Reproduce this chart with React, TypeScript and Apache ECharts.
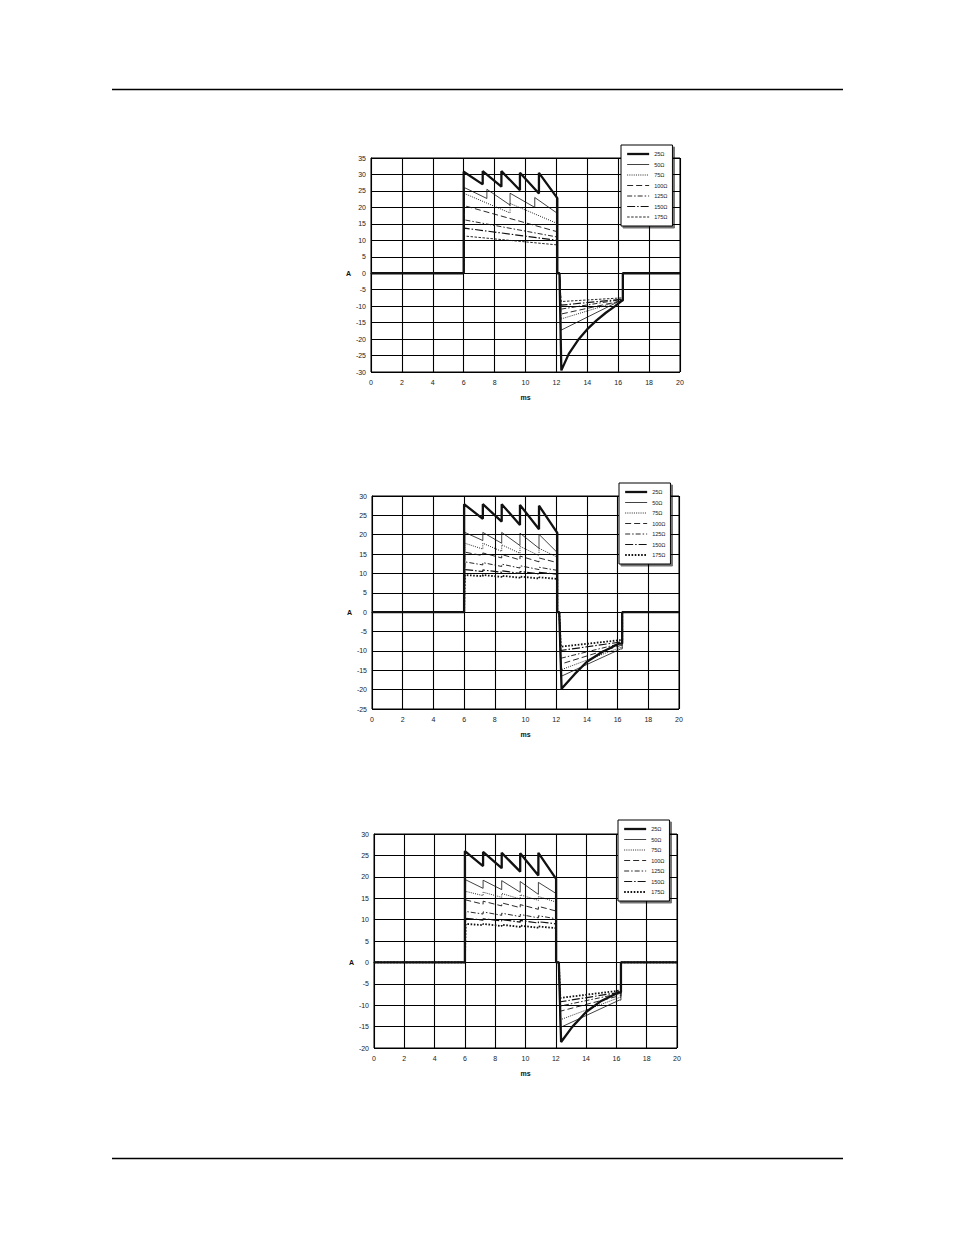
import { useEffect, useRef } from 'react';
import * as echarts from 'echarts';

// resistances shown in each legend
const LOADS = ['25Ω', '50Ω', '75Ω', '100Ω', '125Ω', '150Ω', '175Ω'];
const X_TICKS = [0, 20, 2];

// y axis range per panel [min, max]
const Y_RANGE_1 = [-30, 35];
const Y_RANGE_2 = [-25, 30];
const Y_RANGE_3 = [-20, 30];

// panel 1: positive phase [ms, A] per load
const c1Pos = [
  [[6, 30.8], [7.23, 27], [7.23, 31], [8.44, 26.3], [8.44, 31], [9.64, 25.2], [9.64, 30.5], [10.87, 24.2], [10.87, 30.5], [12.06, 22.8]],
  [[6.05, 26], [7.5, 22.7], [7.5, 25.5], [9.0, 20.7], [9.0, 24.3], [10.6, 20], [10.6, 23], [12.06, 18.2]],
  [[6.05, 24.2], [9.0, 18.3], [9.0, 21.2], [12.06, 15.1]],
  [[6.05, 20.5], [12.06, 12.6]],
  [[6.05, 16.2], [12.06, 11]],
  [[6.05, 13.7], [12.06, 10]],
  [[6.05, 11.3], [12.06, 8.6]],
];
// panel 1: negative phase
const c1Neg = [
  [[12.32, -29.5], [12.8, -24.5], [13.4, -20.3], [14, -17], [14.6, -14.3], [15.2, -12], [15.8, -10], [16.25, -8.3]],
  [[12.3, -17.3], [16.2, -8.2]],
  [[12.3, -13.9], [16.2, -8.3]],
  [[12.3, -12.4], [16.2, -8.4]],
  [[12.3, -10.9], [16.2, -8]],
  [[12.3, -9.7], [16.2, -7.9]],
  [[12.3, -8.6], [16.2, -7.5]],
];

// panel 2
const c2Pos = [
  [[6, 27.9], [7.22, 24.1], [7.22, 27.9], [8.45, 23.4], [8.45, 27.9], [9.64, 22.5], [9.64, 27.7], [10.88, 21.4], [10.88, 27.5], [12.07, 20.5]],
  [[6.05, 20.6], [7.22, 18.5], [7.22, 20.6], [8.45, 17.8], [8.45, 20.6], [9.64, 17.2], [9.64, 20.4], [10.88, 16.5], [10.88, 20.1], [12.07, 15.4]],
  [[6.05, 17.8], [7.22, 16.3], [7.22, 17.8], [8.45, 15.7], [8.45, 17.4], [9.64, 15.2], [9.64, 17], [10.88, 14.6], [10.88, 16.5], [12.07, 14.2]],
  [[6.05, 15.5], [7.22, 14.6], [7.22, 15.3], [8.45, 14], [8.45, 14.9], [9.64, 13.5], [9.64, 14.5], [10.88, 13], [10.88, 14], [12.07, 12.8]],
  [[6.05, 13], [7.22, 12.2], [7.22, 12.8], [8.45, 11.8], [8.45, 12.4], [9.64, 11.4], [9.64, 12], [10.88, 11], [10.88, 11.6], [12.07, 10.8]],
  [[6.05, 11], [7.22, 10.5], [7.22, 10.9], [8.45, 10.3], [8.45, 10.7], [9.64, 10], [9.64, 10.5], [10.88, 9.9], [10.88, 10.3], [12.07, 9.8]],
  [[6.05, 9.6], [7.22, 9.3], [7.22, 9.6], [8.45, 9.1], [8.45, 9.4], [9.64, 8.9], [9.64, 9.2], [10.88, 8.7], [10.88, 9], [12.07, 8.6]],
];
const c2Neg = [
  [[12.35, -19.8], [13.2, -16], [14, -12.8], [15, -10.3], [16.1, -8.1]],
  [[12.3, -16.6], [16.2, -9.5]],
  [[12.3, -14.9], [16.2, -9.1]],
  [[12.3, -13.4], [16.2, -8.6]],
  [[12.3, -11.9], [16.2, -8.1]],
  [[12.3, -9.9], [16.2, -7.7]],
  [[12.3, -8.9], [16.2, -7.2]],
];

// panel 3
const c3Pos = [
  [[6, 26], [7.2, 22.5], [7.2, 25.8], [8.43, 22], [8.43, 25.6], [9.65, 21.2], [9.65, 25.5], [10.85, 20.3], [10.85, 25.6], [12.02, 19.5]],
  [[6.05, 19.3], [7.2, 17.3], [7.2, 19.2], [8.43, 17], [8.43, 19.1], [9.65, 16.4], [9.65, 18.9], [10.85, 15.9], [10.85, 18.7], [12.02, 16.1]],
  [[6.05, 16.6], [7.2, 15.6], [7.2, 16.4], [8.43, 15.2], [8.43, 16.1], [9.65, 14.8], [9.65, 15.8], [10.85, 14.5], [10.85, 15.4], [12.02, 14.1]],
  [[6.05, 14.6], [7.2, 13.6], [7.2, 14.3], [8.43, 13.2], [8.43, 13.9], [9.65, 12.8], [9.65, 13.5], [10.85, 12.4], [10.85, 13.1], [12.02, 12]],
  [[6.05, 11.9], [7.2, 11.3], [7.2, 11.8], [8.43, 11], [8.43, 11.5], [9.65, 10.7], [9.65, 11.2], [10.85, 10.4], [10.85, 10.9], [12.02, 10.2]],
  [[6.05, 10.3], [7.2, 9.9], [7.2, 10.2], [8.43, 9.7], [8.43, 10], [9.65, 9.4], [9.65, 9.8], [10.85, 9.2], [10.85, 9.5], [12.02, 9]],
  [[6.05, 9], [7.2, 8.7], [7.2, 9], [8.43, 8.5], [8.43, 8.8], [9.65, 8.3], [9.65, 8.6], [10.85, 8.1], [10.85, 8.4], [12.02, 8]],
];
const c3Neg = [
  [[12.35, -18.6], [13.1, -15], [14, -11.6], [15, -9], [16.15, -7]],
  [[12.3, -15.2], [16.2, -8.8]],
  [[12.3, -13.4], [16.2, -8.2]],
  [[12.3, -11.4], [16.2, -7.8]],
  [[12.3, -10.2], [16.2, -7.3]],
  [[12.3, -9.2], [16.2, -7]],
  [[12.3, -8.3], [16.2, -6.6]],
];

// full trace: rest, positive pulse, pause, negative pulse, rest
function wave(pos: number[][], neg: number[][]) {
  const tEnd = pos[pos.length - 1][0];
  const nEnd = neg[neg.length - 1][1];
  return [[0, 0], [6, 0], ...pos, [tEnd, 0], [12.2, 0], ...neg, [16.3, nEnd], [16.3, 0], [20, 0]];
}

function lineStyleFor(i: number, panel: number) {
  const base = { color: '#111', width: 0.9, type: 'solid' as any };
  if (i === 0) return { ...base, width: 2.3 };
  if (i === 1) return { ...base, width: 0.8 };
  if (i === 2) return { ...base, type: [1, 1.2] };
  if (i === 3) return { ...base, type: [6, 3] };
  if (i === 4) return { ...base, type: [5, 2, 1.5, 2] };
  if (i === 5) return { ...base, width: 1.2, type: [8, 2, 1.5, 2] };
  // 175 ohm: dashes on panel 1, heavy dots on the others
  return panel === 0 ? { ...base, type: [2.5, 1.5] } : { ...base, width: 1.8, type: [1.6, 1.6] };
}

const FONT = 'Liberation Sans, Arial, sans-serif';
const CLEAR = 'rgba(0,0,0,0)';

export default function App() {
  const chartRef = useRef<HTMLDivElement>(null);

  useEffect(() => {
    if (!chartRef.current) return;
    const chart = echarts.init(chartRef.current, null, { renderer: 'svg' });

    const grids = [
      { left: 371, top: 158, width: 309, height: 214 },
      { left: 372, top: 496, width: 307, height: 213 },
      { left: 374, top: 834, width: 303, height: 214 },
    ];
    const yRanges = [Y_RANGE_1, Y_RANGE_2, Y_RANGE_3];
    const pos = [c1Pos, c2Pos, c3Pos];
    const neg = [c1Neg, c2Neg, c3Neg];
    const legendPos = [
      { left: 621, top: 145 },
      { left: 619, top: 483 },
      { left: 618, top: 820 },
    ];

    const series: any[] = [];
    for (let p = 0; p < 3; p++) {
      // thin lines first, 25 ohm on top
      for (let i = LOADS.length - 1; i >= 0; i--) {
        series.push({
          name: `p${p} ${LOADS[i]}`,
          type: 'line',
          xAxisIndex: p,
          yAxisIndex: p,
          symbol: 'none',
          color: '#111',
          itemStyle: { color: '#111' },
          data: wave(pos[p][i], neg[p][i]),
          lineStyle: lineStyleFor(i, p),
          z: i === 0 ? 5 : 3,
        });
      }
    }

    const option: any = {
      animation: false,
      grid: grids.map((g) => ({ ...g, show: true, borderColor: '#000', borderWidth: 1 })),
      xAxis: grids.map((_, p) => ({
        type: 'value',
        gridIndex: p,
        min: X_TICKS[0],
        max: X_TICKS[1],
        interval: X_TICKS[2],
        name: 'ms',
        nameLocation: 'middle',
        nameGap: 22,
        nameTextStyle: { fontSize: 7, fontWeight: 'bold', fontFamily: FONT, color: '#111' },
        axisLine: { lineStyle: { color: '#000', width: 1 } },
        axisTick: { show: false },
        axisLabel: { fontSize: 7, color: '#222', fontFamily: FONT, margin: 7 },
        splitLine: { lineStyle: { color: '#000', width: 1.1 } },
      })),
      yAxis: grids.map((_, p) => ({
        type: 'value',
        gridIndex: p,
        min: yRanges[p][0],
        max: yRanges[p][1],
        interval: 5,
        axisLine: { lineStyle: { color: '#000', width: 1 } },
        axisTick: { show: false },
        axisLabel: {
          fontSize: 7,
          color: '#222',
          fontFamily: FONT,
          margin: 5,
          formatter: (v: number) => (v === 0 ? '{a|A}{b|0}' : String(v)),
          rich: {
            a: { fontSize: 7, fontWeight: 'bold', fontFamily: FONT, color: '#111', padding: [0, 11, 0, 0] },
            b: { fontSize: 7, fontFamily: FONT, color: '#222' },
          },
        },
        splitLine: { lineStyle: { color: '#000', width: 1.1 } },
      })),
      legend: legendPos.map((lp, p) => ({
        ...lp,
        orient: 'vertical',
        data: LOADS.map((l, i) => {
          const ls = lineStyleFor(i, p);
          return { name: `p${p} ${l}`, lineStyle: { width: ls.width, type: ls.type, color: '#111' } };
        }),
        formatter: (name: string) => name.split(' ')[1],
        itemWidth: 22,
        itemHeight: 7,
        itemGap: 4.5,
        padding: [6, 5, 6, 5],
        backgroundColor: '#fff',
        borderColor: '#000',
        borderWidth: 1,
        shadowColor: 'rgba(0,0,0,0.55)',
        shadowBlur: 0,
        shadowOffsetX: 2,
        shadowOffsetY: 2,
        selectedMode: false,
        // hide the symbol drawn in the middle of each line icon
        itemStyle: { color: CLEAR, borderColor: CLEAR, borderWidth: 0 },
        textStyle: { fontSize: 5.5, fontFamily: FONT, color: '#222', width: 15, align: 'right' },
      })),
      graphic: [
        { type: 'line', shape: { x1: 112, y1: 89.5, x2: 843, y2: 89.5 }, style: { stroke: '#000', lineWidth: 1.6 } },
        { type: 'line', shape: { x1: 112, y1: 1158.5, x2: 843, y2: 1158.5 }, style: { stroke: '#000', lineWidth: 1.6 } },
      ],
      series,
    };

    chart.setOption(option);
    return () => {
      chart.dispose();
    };
  }, []);

  return (
    <div
      ref={chartRef}
      style={{ position: 'absolute', left: 0, top: 0, width: '954px', height: '1235px', background: '#fff' }}
    />
  );
}
